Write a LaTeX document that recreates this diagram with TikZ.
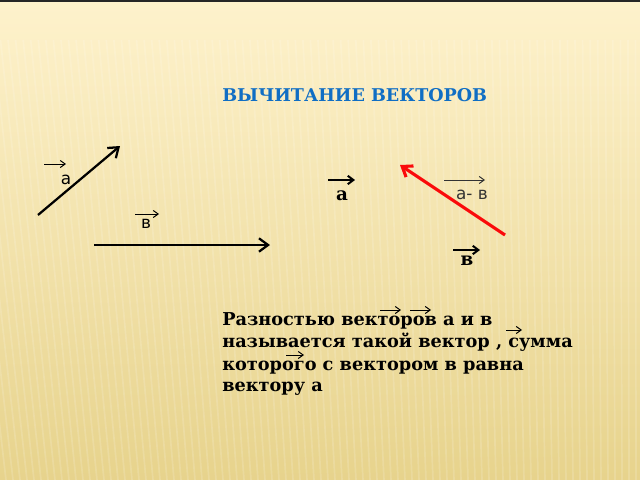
\documentclass[tikz,border=0pt]{standalone}
\usepackage{fontspec}
\setmainfont{DejaVu Serif}
\newfontfamily\labelfont{DejaVu Sans}
\usetikzlibrary{arrows.meta}
\definecolor{slidetop}{RGB}{254,242,204}
\definecolor{slidebottom}{RGB}{231,211,140}
\definecolor{titleblue}{RGB}{16,110,196}
\definecolor{vecred}{RGB}{250,10,10}
\begin{document}
\begin{tikzpicture}[x=0.025cm,y=-0.025cm]
\tikzstyle{vec}=[line width=1.6pt,-{Straight Barb[length=6.5pt,width=9.5pt]}]
\tikzstyle{over}=[line width=0.7pt,-{Straight Barb[length=3.5pt,width=5pt]}]
\tikzstyle{overbold}=[line width=1.4pt,-{Straight Barb[length=4pt,width=6pt]}]
\tikzstyle{lbl}=[inner sep=0pt,font=\labelfont\fontsize{12}{14}\selectfont]
\tikzstyle{boldlbl}=[inner sep=0pt,font=\bfseries\fontsize{13}{15}\selectfont]
\tikzstyle{line}=[inner sep=0pt,anchor=base west,font=\bfseries\fontsize{12.6}{15}\selectfont]
\useasboundingbox (0,0) rectangle (640,480);
% background
\shade[top color=slidetop,bottom color=slidebottom] (0,0) rectangle (640,480);
\begin{scope}
\clip (0,0) rectangle (640,480);
\foreach \i in {0,7,...,700}
  \draw[white,opacity=0.15,line width=1.2pt] (\i-60+\i*0.08,40) -- (\i-8,480);
\end{scope}
\draw[black!85,line width=1.5pt] (0,0.7) -- (640,0.7);
% title
\node[line,text=titleblue,font=\bfseries\fontsize{12.5}{15}\selectfont] (title) at (222,101) {ВЫЧИТАНИЕ ВЕКТОРОВ};
% vector a
\coordinate (A0) at (38,215);
\coordinate (A1) at (120,146);
\draw[vec] (A0) -- (A1);
\node[lbl] (la) at (66,180) {а};
\coordinate (oa0) at (44,164);
\coordinate (oa1) at (66,164);
\draw[over] (oa0) -- (oa1);
% vector b
\coordinate (B0) at (94,245);
\coordinate (B1) at (270,245);
\draw[vec] (B0) -- (B1);
\node[lbl] (lb) at (146,224) {в};
\coordinate (ob0) at (135,214);
\coordinate (ob1) at (159,214);
\draw[over] (ob0) -- (ob1);
% a - b
\node[boldlbl] (ma) at (342,196) {а};
\coordinate (oma0) at (328,180);
\coordinate (oma1) at (355,180);
\draw[overbold] (oma0) -- (oma1);
\coordinate (D0) at (505,235);
\coordinate (D1) at (400,165);
\draw[vec,vecred,line width=2.2pt] (D0) -- (D1);
\node[lbl,text=black!80] (ld) at (472,195) {а- в};
\coordinate (od0) at (444,180);
\coordinate (od1) at (485,180);
\draw[over,black!80] (od0) -- (od1);
\node[boldlbl] (mb) at (467,261) {в};
\coordinate (omb0) at (453,250);
\coordinate (omb1) at (480,250);
\draw[overbold] (omb0) -- (omb1);
% definition
\node[line] (line1) at (222,325.5) {Разностью векторов а и в};
\node[line] (line2) at (222,347.7) {называется такой вектор , сумма};
\node[line] (line3) at (222,370) {которого с вектором в равна};
\node[line] (line4) at (222,391.7) {вектору а};
\coordinate (t10) at (380,310);
\coordinate (t11) at (401,310);
\coordinate (t20) at (410,310);
\coordinate (t21) at (431,310);
\coordinate (t30) at (506,330);
\coordinate (t31) at (522,330);
\coordinate (t40) at (286,355);
\coordinate (t41) at (304,355);
\draw[over] (t10) -- (t11);
\draw[over] (t20) -- (t21);
\draw[over] (t30) -- (t31);
\draw[over] (t40) -- (t41);
\end{tikzpicture}
\end{document}
